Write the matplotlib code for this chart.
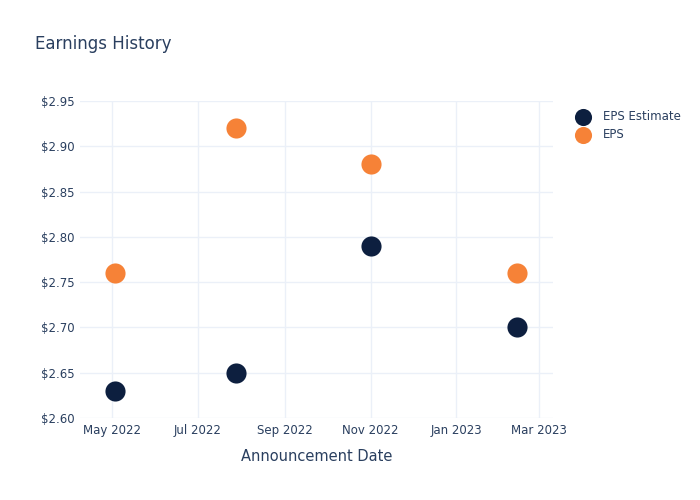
import matplotlib
matplotlib.use("Agg")
import matplotlib.pyplot as plt
import matplotlib.dates as mdates
from matplotlib.ticker import FuncFormatter
import numpy as np
from datetime import datetime

# data
dates = ["2022-05-03", "2022-07-28", "2022-11-01", "2023-02-13"]
eps_estimate = [2.63, 2.65, 2.79, 2.70]
eps_actual = [2.76, 2.92, 2.88, 2.76]

x = [datetime.strptime(d, "%Y-%m-%d") for d in dates]

text_color = "#2a3f5f"
grid_color = "#ebf0f8"
navy = "#0d1f3f"
orange = "#f68237"

fig = plt.figure(figsize=(7, 5), dpi=100)
ax = fig.add_axes([0.1143, 0.164, 0.676, 0.634])

ax.scatter(x, eps_estimate, s=210, color=navy, linewidths=0, label="EPS Estimate", zorder=3)
ax.scatter(x, eps_actual, s=210, color=orange, linewidths=0, label="EPS", zorder=3)

ax.set_xlim(datetime(2022, 4, 8), datetime(2023, 3, 11))
ax.set_ylim(2.60, 2.95)
ax.set_yticks(np.arange(2.60, 2.951, 0.05))
ax.yaxis.set_major_formatter(FuncFormatter(lambda v, p: f"${v:.2f}"))

ax.xaxis.set_major_locator(mdates.MonthLocator(bymonth=[1, 3, 5, 7, 9, 11]))
ax.xaxis.set_major_formatter(mdates.DateFormatter("%b %Y"))

ax.grid(True, color=grid_color, linewidth=1)
ax.set_axisbelow(True)
for s in ax.spines.values():
    s.set_visible(False)
ax.tick_params(length=0, colors=text_color, labelsize=8.5, pad=4)

ax.set_xlabel("Announcement Date", color=text_color, fontsize=10.5, labelpad=9)
fig.text(0.05, 0.912, "Earnings History", color=text_color, fontsize=12, va="center")

leg = ax.legend(loc="upper left", bbox_to_anchor=(1.015, 1.005), frameon=False,
                fontsize=8.5, handletextpad=0.7, labelspacing=0.4,
                markerscale=0.85)
for t in leg.get_texts():
    t.set_color(text_color)

fig.savefig("out.png", dpi=100)
